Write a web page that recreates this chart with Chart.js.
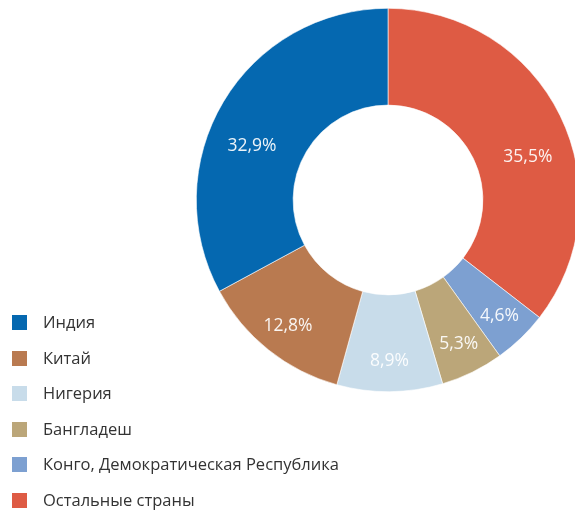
<!DOCTYPE html>
<html lang="ru">
<head>
    <meta charset="UTF-8">
    <title>Доли стран</title>
    <script src="https://cdn.jsdelivr.net/npm/chart.js"></script>
    <style>
        html, body {
            margin: 0;
            padding: 0;
            overflow: hidden;
            background: #fff;
            font-family: "Open Sans", "Noto Sans", sans-serif;
        }
        .wrap {
            position: absolute;
            left: 0;
            top: 0;
            width: 585px;
            height: 510px;
        }
        #legend {
            position: absolute;
            left: 12px;
            top: 304px;
            margin: 0;
            padding: 0;
            list-style: none;
        }
        #legend li {
            height: 35.5px;
            line-height: 35.5px;
            font-size: 16.5px;
            color: #333;
            white-space: nowrap;
        }
        #legend span {
            display: inline-block;
            width: 15px;
            height: 15px;
            margin-right: 16px;
            vertical-align: -2px;
        }
    </style>
</head>
<body>
    <div class="wrap"><canvas id="chart"></canvas></div>
    <ul id="legend"></ul>

    <script>
        // порядок легенды
        const countries = ['Индия', 'Китай', 'Нигерия', 'Бангладеш', 'Конго, Демократическая Республика', 'Остальные страны'];
        const shares = [32.9, 12.8, 8.9, 5.3, 4.6, 35.5];
        const colors = ['#0568b0', '#b97a50', '#c8dcea', '#bba679', '#7da0d1', '#de5b44'];

        // на круге сектора идут по часовой стрелке в обратном порядке
        const ringLabels = countries.slice().reverse();
        const ringValues = shares.slice().reverse();
        const ringColors = colors.slice().reverse();

        // подписи процентов внутри секторов
        const percentLabels = {
            id: 'percentLabels',
            afterDatasetsDraw(chart) {
                const ctx = chart.ctx;
                const meta = chart.getDatasetMeta(0);
                ctx.save();
                ctx.font = '17.5px "Open Sans", "Noto Sans", sans-serif';
                ctx.fillStyle = 'rgba(255,255,255,0.92)';
                ctx.textAlign = 'center';
                ctx.textBaseline = 'middle';
                meta.data.forEach((arc, i) => {
                    const p = arc.getProps(['x', 'y', 'startAngle', 'endAngle', 'innerRadius', 'outerRadius'], true);
                    let mid = (p.startAngle + p.endAngle) / 2;
                    let k = 0.68;
                    // у больших секторов подпись ближе к горизонтали
                    if (p.endAngle - p.startAngle > Math.PI / 2) {
                        mid += Math.cos(mid) > 0 ? 0.16 : -0.16;
                        k = 0.53;
                    }
                    const r = p.innerRadius + (p.outerRadius - p.innerRadius) * k;
                    const text = ringValues[i].toFixed(1).replace('.', ',') + '%';
                    ctx.fillText(text, p.x + Math.cos(mid) * r, p.y + Math.sin(mid) * r);
                });
                ctx.restore();
            }
        };

        const chart = new Chart(document.getElementById('chart'), {
            type: 'doughnut',
            data: {
                labels: ringLabels,
                datasets: [{
                    data: ringValues,
                    backgroundColor: ringColors,
                    borderColor: '#ffffff',
                    borderWidth: 0.6
                }]
            },
            options: {
                responsive: true,
                maintainAspectRatio: false,
                animation: false,
                cutout: '49.5%',
                layout: {
                    padding: { left: 196, top: 8, right: 5, bottom: 118 }
                },
                plugins: {
                    legend: { display: false },
                    tooltip: { enabled: false }
                }
            },
            plugins: [percentLabels]
        });

        // легенда слева внизу
        const legend = document.getElementById('legend');
        countries.forEach((name, i) => {
            const li = document.createElement('li');
            const box = document.createElement('span');
            box.style.background = colors[i];
            li.appendChild(box);
            li.appendChild(document.createTextNode(name));
            legend.appendChild(li);
        });
    </script>
</body>
</html>
